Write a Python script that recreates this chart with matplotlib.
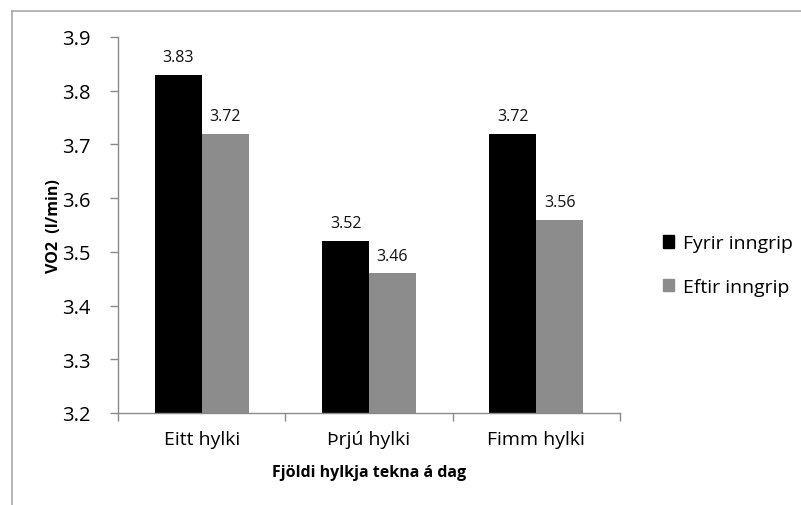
import matplotlib
matplotlib.use("Agg")
import matplotlib.pyplot as plt
import matplotlib.patches as mpatches
from matplotlib.lines import Line2D
import numpy as np

plt.rcParams["font.family"] = ["Open Sans", "DejaVu Sans"]

# Data
categories = ["Eitt hylki", "Þrjú hylki", "Fimm hylki"]
fyrir = [3.83, 3.52, 3.72]
eftir = [3.72, 3.46, 3.56]
series_names = ["Fyrir inngrip", "Eftir inngrip"]
yticks = [3.2, 3.3, 3.4, 3.5, 3.6, 3.7, 3.8, 3.9]

BLACK = "#000000"
GRAY = "#8C8C8C"
AXIS = "#8A8A8A"

fig = plt.figure(figsize=(8.01, 5.06), dpi=100)
ax = fig.add_axes([118 / 801, 1 - 414 / 506, (620 - 118) / 801, (414 - 38) / 506])

x = np.arange(len(categories))
w = 0.28
b1 = ax.bar(x - w / 2, np.array(fyrir) - 3.2, w, bottom=3.2, color=BLACK, zorder=2)
b2 = ax.bar(x + w / 2, np.array(eftir) - 3.2, w, bottom=3.2, color=GRAY, zorder=2)

for bars, vals in ((b1, fyrir), (b2, eftir)):
    for rect, v in zip(bars, vals):
        ax.annotate(f"{v:.2f}", xy=(rect.get_x() + rect.get_width() / 2, v),
                    xytext=(0, 7), textcoords="offset points",
                    ha="center", va="bottom", fontsize=11.5, color="#111111")

ax.set_xlim(-0.5, len(categories) - 0.5)
ax.set_ylim(3.2, 3.9)
ax.set_yticks(yticks)
ax.set_yticklabels([f"{t:.1f}" for t in yticks], fontsize=14.5)
ax.set_xticks(x)
ax.set_xticklabels(categories, fontsize=14)
ax.set_xticks(np.arange(len(categories) + 1) - 0.5, minor=True)
ax.tick_params(axis="x", which="major", length=0, pad=12)
ax.tick_params(axis="x", which="minor", length=6, color=AXIS, width=1)
ax.tick_params(axis="y", length=6, color=AXIS, width=1, pad=14)

for side in ("top", "right"):
    ax.spines[side].set_visible(False)
for side in ("left", "bottom"):
    ax.spines[side].set_color(AXIS)
    ax.spines[side].set_linewidth(1)

ax.set_ylabel("VO2  (l/min)", fontsize=11.5, fontweight="bold", labelpad=0)
ax.set_xlabel("Fjöldi hylkja tekna á dag", fontsize=11.5, fontweight="bold", labelpad=12)

handles = [mpatches.Patch(color=BLACK, label=series_names[0]),
           mpatches.Patch(color=GRAY, label=series_names[1])]
fig.legend(handles=handles, loc="center left", bbox_to_anchor=(645 / 801, 1 - 266 / 506),
           frameon=False, fontsize=14, handlelength=0.6, handleheight=0.6,
           handletextpad=0.45, labelspacing=1.3)

# chart area frame (left and top edges)
fig.add_artist(Line2D([12 / 801, 12 / 801], [0, 1 - 12 / 506], color="#A8A8A8", lw=1.2,
                      transform=fig.transFigure))
fig.add_artist(Line2D([12 / 801, 1], [1 - 12 / 506, 1 - 12 / 506], color="#A8A8A8", lw=1.2,
                      transform=fig.transFigure))

fig.savefig("out.png", dpi=100)
